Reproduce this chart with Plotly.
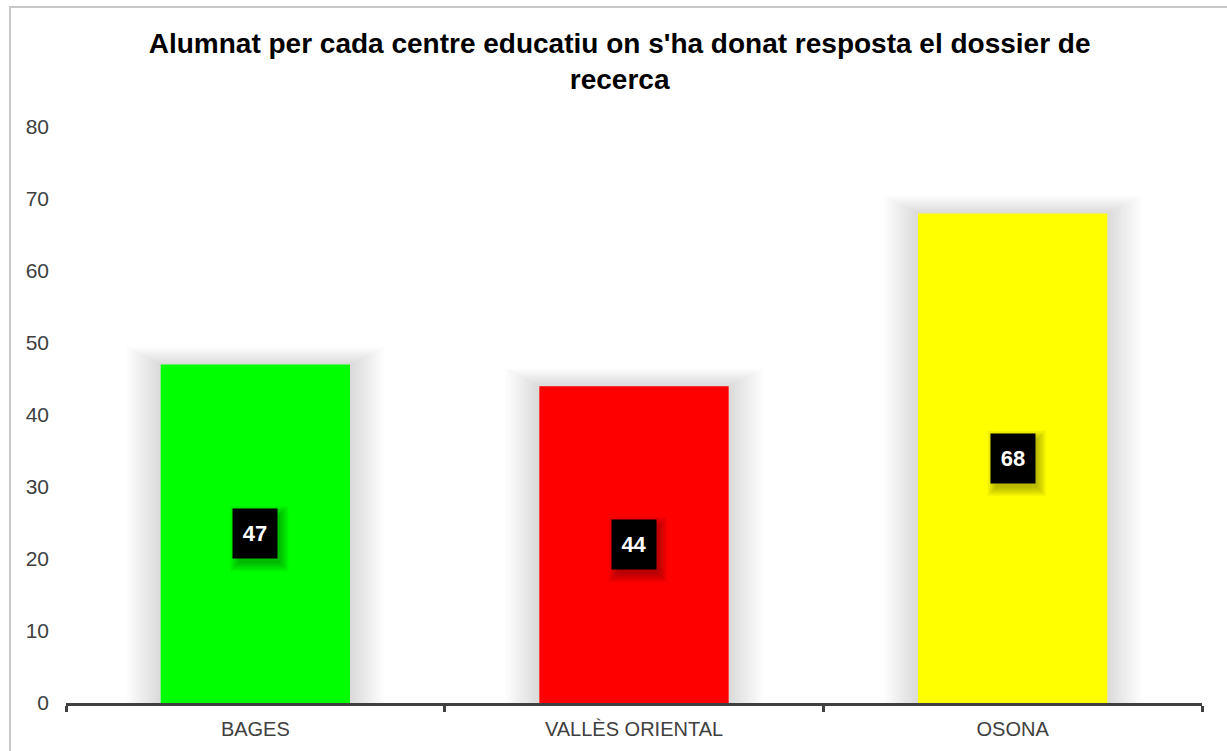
import plotly.graph_objects as go

# Data
categories = ["BAGES", "VALLÈS ORIENTAL", "OSONA"]
values = [47, 44, 68]
bar_colors = ["#00FF00", "#FF0000", "#FFFF00"]
title_text = "Alumnat per cada centre educatiu on s'ha donat resposta el dossier de<br>recerca"

FONT = "Liberation Sans, Arial, sans-serif"
BAR_W = 0.5
BOX_W, BOX_H = 42, 47

fig = go.Figure()

# Soft shadow behind each bar: stacked translucent layers, slightly larger
for k in range(1, 13):
    fig.add_trace(go.Bar(
        x=categories,
        y=[v + 0.2 * k for v in values],
        width=BAR_W + 0.015 * k,
        marker=dict(color="rgba(0,0,0,0.011)", line=dict(width=0)),
        hoverinfo="skip",
        showlegend=False,
    ))

# Main bars
fig.add_trace(go.Bar(
    x=categories,
    y=values,
    width=BAR_W,
    marker=dict(color=bar_colors, line=dict(width=0)),
    showlegend=False,
))

# Value labels: black boxes centred in each bar, with a blurred drop shadow
for i, v in enumerate(values):
    for k in range(5):
        grow = 2 * k
        fig.add_shape(
            type="rect", xref="x", yref="y",
            xsizemode="pixel", ysizemode="pixel",
            xanchor=i, yanchor=v / 2,
            x0=-BOX_W / 2 + 4 - grow, x1=BOX_W / 2 + 4 + grow,
            y0=-BOX_H / 2 - 6 - grow, y1=BOX_H / 2 - 4 + grow,
            fillcolor="rgba(0,0,0,0.06)", line=dict(width=0),
            layer="above",
        )
    fig.add_annotation(
        x=categories[i], y=v / 2, xref="x", yref="y",
        text=f"<b>{v}</b>", showarrow=False,
        font=dict(family=FONT, size=22, color="white"),
        bgcolor="black", width=BOX_W, height=BOX_H,
    )

# Outer frame of the chart
fig.add_shape(
    type="rect", xref="paper", yref="paper",
    x0=(10 - 66) / 1136, x1=(1240 - 66) / 1136,
    y0=(703 - 760) / 576, y1=(703 - 7) / 576,
    line=dict(color="#c8c8c8", width=2), fillcolor="rgba(0,0,0,0)",
    layer="below",
)

fig.update_layout(
    width=1227, height=751,
    margin=dict(l=66, r=25, t=127, b=48),
    paper_bgcolor="white", plot_bgcolor="white",
    barmode="overlay",
    font=dict(family=FONT, color="#404040"),
    title=dict(
        text=f"<b>{title_text}</b>",
        font=dict(family=FONT, size=28, color="black"),
        x=0.505, xanchor="center", xref="container",
        y=1 - 53 / 751, yanchor="top", yref="container",
    ),
    xaxis=dict(
        showline=True, linecolor="#404040", linewidth=3,
        ticks="outside", tickson="boundaries", ticklen=6, tickwidth=3,
        tickcolor="#404040", showgrid=False,
        tickfont=dict(family=FONT, size=20, color="#404040"),
        ticklabelstandoff=6,
        range=[-0.5, 2.5],
    ),
    yaxis=dict(
        range=[0, 80], dtick=10, showgrid=False, showline=False,
        zeroline=False, ticks="",
        tickfont=dict(family=FONT, size=21, color="#404040"),
        ticklabelstandoff=16,
    ),
)

fig.write_html("out.html")
